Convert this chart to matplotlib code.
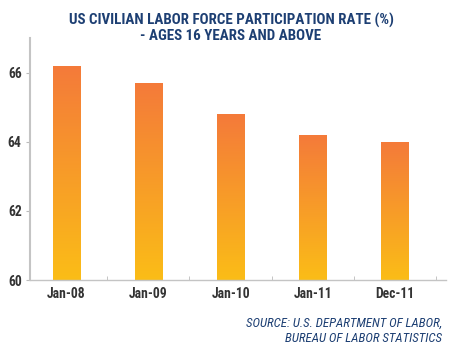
import matplotlib
matplotlib.use("Agg")
import matplotlib.pyplot as plt
import numpy as np
from matplotlib.colors import LinearSegmentedColormap
from matplotlib.patches import Rectangle

categories = ["Jan-08", "Jan-09", "Jan-10", "Jan-11", "Dec-11"]
values = [66.2, 65.7, 64.8, 64.2, 64.0]
yticks = [60, 62, 64, 66]

title = "US CIVILIAN LABOR FORCE PARTICIPATION RATE (%)\n- AGES 16 YEARS AND ABOVE"
source = "SOURCE: U.S. DEPARTMENT OF LABOR,\nBUREAU OF LABOR STATISTICS"

FONT = ["Roboto Condensed", "DejaVu Sans"]
NAVY = "#1d3f73"

fig = plt.figure(figsize=(4.5, 3.58), dpi=100)
ax = fig.add_axes([30/450, 1-280/358, 416/450, 242/358])

cmap = LinearSegmentedColormap.from_list("g", ["#fbbd17", "#f47a3a"])
grad = np.linspace(0, 1, 256).reshape(-1, 1)
width = 0.33
x = np.arange(len(categories))
for xi, v in zip(x, values):
    im = ax.imshow(grad, cmap=cmap, origin="lower", aspect="auto",
                   extent=[xi - width/2, xi + width/2, 60, v], zorder=2)
    rect = Rectangle((xi - width/2, 60), width, v - 60, transform=ax.transData,
                     facecolor="none", edgecolor="none")
    ax.add_patch(rect)
    im.set_clip_path(rect)

ax.set_xlim(-0.44, 4.62)
ax.set_ylim(60, 67)
ax.set_xticks(x)
ax.set_xticklabels(categories, fontfamily=FONT, fontweight="bold", fontsize=9.8, color="#333333")
ax.set_xticks(np.arange(len(categories)) + 0.5, minor=True)
ax.tick_params(axis="x", which="major", length=0, pad=5)
ax.tick_params(axis="x", which="minor", length=3, color="#bbbbbb", direction="in")
ax.set_yticks(yticks)
ax.set_yticklabels([str(t) for t in yticks], fontfamily=FONT, fontweight="bold", fontsize=9.8, color="#333333")
ax.tick_params(axis="y", length=3, color="#bbbbbb", pad=3)

for s in ["top", "right"]:
    ax.spines[s].set_visible(False)
ax.spines["left"].set_color("#c4c4c4")
ax.spines["left"].set_linewidth(1.5)
ax.spines["bottom"].set_color("#c4c4c4")
ax.spines["bottom"].set_linewidth(1.0)

fig.text(231/450, 1-28/358, title, ha="center", va="center", fontfamily=FONT,
         fontweight="bold", fontsize=10.8, color=NAVY, linespacing=1.1)
fig.text(442/450, 1-331/358, source, ha="right", va="center", fontfamily=FONT,
         fontstyle="italic", fontsize=9.3, color=NAVY, linespacing=1.2)

fig.savefig("out.png", dpi=100)
